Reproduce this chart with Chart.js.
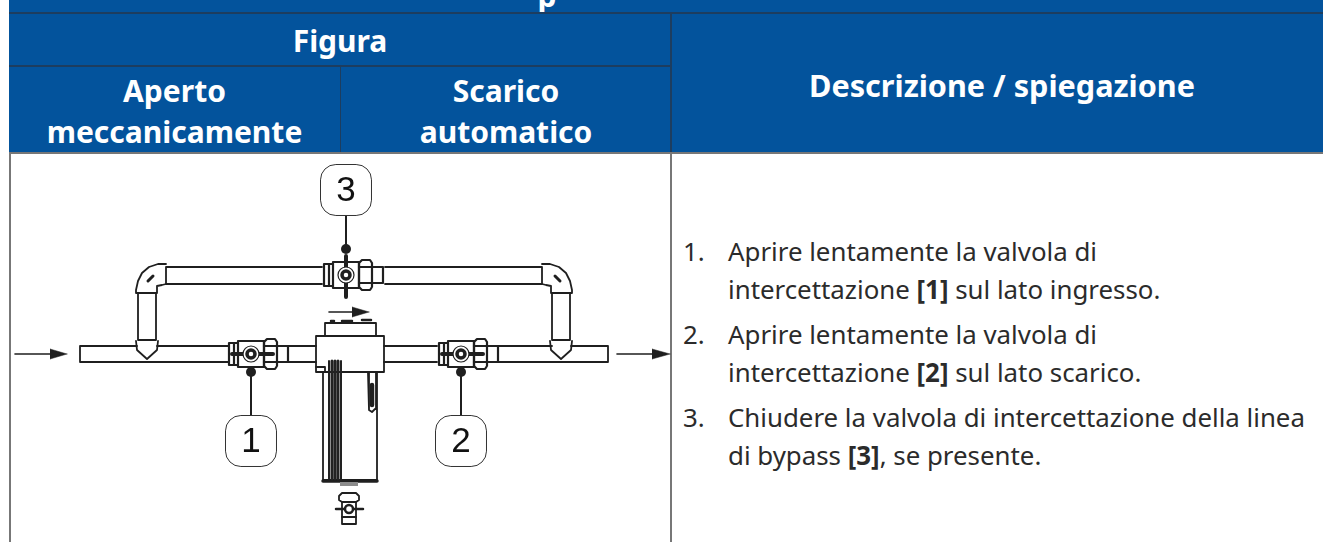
<!DOCTYPE html>
<html>
<head>
<meta charset="utf-8">
<script src="https://cdn.jsdelivr.net/npm/chart.js@4"></script>
<style>
    html, body { margin: 0; padding: 0; background: #fff; }
    #page { position: relative; width: 1323px; height: 542px; overflow: hidden; font-family: "Noto Sans", sans-serif; }
    #page canvas { position: absolute; left: 0; top: 0; }
    .fill { position: absolute; background: #03539c; }
    .rule { position: absolute; background: #1d3d5f; }
    .edge { position: absolute; background: #777; }
    .head { position: absolute; color: #fff; font-weight: 700; text-align: center; white-space: nowrap; font-size: 30px; line-height: 40px; }
    .row { position: absolute; color: #2b2b2b; font-size: 25.85px; line-height: 38px; white-space: nowrap; }
    .row b { font-weight: 700; }
</style>
</head>
<body>
<div id="page">
    <div class="fill" style="left:9px;top:0;width:1314px;height:153px"></div>
    <div class="head" style="left:527px;top:-24px;width:40px">p</div>
    <div class="rule" style="left:9px;top:12px;width:1314px;height:2px"></div>
    <div class="rule" style="left:9px;top:65px;width:662px;height:2px"></div>
    <div class="rule" style="left:340px;top:66px;width:1px;height:87px"></div>
    <div class="rule" style="left:670px;top:13px;width:2px;height:140px"></div>
    <div class="edge" style="left:9px;top:152px;width:1314px;height:2px"></div>
    <div class="edge" style="left:9px;top:153px;width:2px;height:389px"></div>
    <div class="edge" style="left:670px;top:153px;width:2px;height:389px"></div>

    <div class="head" style="left:9px;top:21px;width:662px">Figura</div>
    <div class="head" style="left:9px;top:71px;width:331px">Aperto</div>
    <div class="head" style="left:9px;top:112px;width:331px">meccanicamente</div>
    <div class="head" style="left:341px;top:71px;width:330px">Scarico</div>
    <div class="head" style="left:341px;top:112px;width:330px">automatico</div>
    <div class="head" style="left:671px;top:65px;width:662px;font-size:30.6px">Descrizione / spiegazione</div>

    <div class="row" style="left:683px;top:232px">1.</div>
    <div class="row" style="left:728px;top:232px">Aprire lentamente la valvola di</div>
    <div class="row" style="left:728px;top:270px">intercettazione <b>[1]</b> sul lato ingresso.</div>
    <div class="row" style="left:683px;top:315px">2.</div>
    <div class="row" style="left:728px;top:315px">Aprire lentamente la valvola di</div>
    <div class="row" style="left:728px;top:353px">intercettazione <b>[2]</b> sul lato scarico.</div>
    <div class="row" style="left:683px;top:398px">3.</div>
    <div class="row" style="left:728px;top:398px">Chiudere la valvola di intercettazione della linea</div>
    <div class="row" style="left:728px;top:436px">di bypass <b>[3]</b>, se presente.</div>

    <canvas id="diagram" width="1323" height="542"></canvas>
</div>

<script>
// Callouts
const calloutLabels = ['1', '2', '3'];
const calloutBoxes = [[251, 441], [461, 441], [346, 190]];
const calloutDots = [[251, 372], [461, 372], [346, 249]];
const calloutLeads = [[[251, 372], [251, 416]], [[461, 372], [461, 416]], [[346, 215], [346, 249]]];

// Flow arrows: tail, then the two edges of each head, filled back to the axis
const arrowLines = [[[15, 354], [52, 354]], [[617, 354], [654, 354]], [[329, 312], [354, 312]]];
const arrowEdges = [
    [[50, 349], [67, 354]], [[50, 359], [67, 354]],
    [[652, 349], [670, 354]], [[652, 359], [670, 354]],
    [[352, 307], [369, 312]], [[352, 317], [369, 312]]
];

// Pipes
const topPipeLeft = [[322, 267], [166, 267], [166, 284], [322, 284]];
const topPipeRight = [[385, 267], [542, 267], [542, 284], [385, 284]];
const elbowLeft = [[166, 264], [158, 264], [149, 267], [142, 273], [138, 281], [136, 290], [136, 293], [157, 293], [157, 286], [162, 285], [166, 284]];
const elbowLeftEye = [[148, 281], [153, 276]];
const riserLeft = [[138, 293], [138, 340], [156, 340], [156, 293]];
const capLeft = [[136, 341], [137, 350], [147, 359], [157, 350], [158, 341]];
const mainInA = [[137, 346], [80, 346], [80, 362], [229, 362]];
const mainInB = [[157, 346], [229, 346]];
const mainOutA = [[497, 346], [552, 346]];
const mainOutB = [[571, 346], [608, 346], [608, 362], [497, 362]];
const midIn = [[287, 346], [316, 346]];
const midInB = [[287, 362], [316, 362]];
const midOut = [[384, 346], [437, 346]];
const midOutB = [[384, 362], [437, 362]];

// Filter
const filterHead = [[316, 336], [384, 336], [384, 372], [316, 372], [316, 336]];
const filterTop = [[325, 335], [325, 323], [376, 323], [376, 335]];
const filterBumps = [[[342, 321], [352, 321]], [[362, 320], [371, 320]], [[331, 321], [334, 321]]];
const filterLip = [[316, 367], [325, 367], [325, 372]];
const bowl = [[323, 372], [323, 480], [377, 480], [377, 372]];
const bowlBase = [[323, 481], [377, 481]];
const bowlStrips = [[329, 361], [332, 361], [335, 361], [338, 361], [341, 361]];
const bowlStripEnd = 479;
const sightGlass = [[368, 373], [369, 410], [372, 412], [375, 409], [376, 373]];
const sightBar = [[372, 385], [372, 405]];

// Drain valve under the bowl
const drainNeck = [[340, 484], [358, 484]];
const drainNut = [[342, 493], [356, 493], [359, 496], [359, 500], [356, 502], [342, 502], [339, 500], [339, 496], [342, 493]];
const drainBody = [[342, 502], [342, 524], [356, 524], [356, 502]];
const drainBottom = [[342, 517], [356, 517]];
const drainHandle = [[336, 509], [363, 509]];
const drainKnob = [[349, 509]];

// Valve outlines around their own centre
const valveLeftBody = [[-13, -11], [-22, -11], [-22, 11], [-13, 11]];
const valveMiddle = [[-13, -13], [13, -13], [13, 13], [-13, 13], [-13, -13]];
const valveInner = [[-17, -11], [-17, 11]];
const valveNut = [[13, -12], [16, -15], [24, -15], [26, -12], [26, 12], [24, 15], [16, 15], [13, 12], [13, -12]];
const valveNutBand = [[13, -8], [26, -8]];
const valveNutBandB = [[13, 8], [26, 8]];
const valveStub = [[26, -8], [37, -8], [37, 8], [26, 8]];
const valveHandleFlat = [[-19, 0], [22, 0]];
const valveHandleUp = [[0, -19], [0, 22]];
const valveCentres = [[251, 354], [461, 354], [346, 275]];

function shift(points, dx, dy) {
    return points.map(p => ({ x: p[0] + dx, y: p[1] + dy }));
}
function mirror(points) {
    return points.map(p => [708 - p[0], p[1]]);
}

const INK = '#1f1f1f';
const datasets = [];

function line(points, width, extra) {
    datasets.push(Object.assign({
        data: shift(points, 0, 0),
        showLine: true,
        borderColor: INK,
        borderWidth: width || 1.8,
        borderCapStyle: 'round',
        borderJoinStyle: 'round',
        pointRadius: 0,
        clip: false
    }, extra));
}
function marker(points, style, radius, extra) {
    datasets.push(Object.assign({
        data: shift(points, 0, 0),
        showLine: false,
        pointStyle: style,
        pointRadius: radius,
        pointBackgroundColor: INK,
        pointBorderColor: INK,
        pointBorderWidth: 0,
        clip: false
    }, extra));
}

[topPipeLeft, topPipeRight, elbowLeft, mirror(elbowLeft), riserLeft, mirror(riserLeft), capLeft, mirror(capLeft),
    mainInA, mainInB, mainOutA, mainOutB, midIn, midInB, midOut, midOutB,
    filterHead, filterTop, filterLip, bowl, sightGlass, drainNut, drainBody, drainBottom].forEach(p => line(p));

line(elbowLeftEye, 3);
line(mirror(elbowLeftEye), 3);
filterBumps.forEach(p => line(p, 2.5));
line(bowlBase, 3.5);
bowlStrips.forEach((top, i) => line([top, [top[0], bowlStripEnd]], i === 0 || i === 4 ? 2 : 3, { borderColor: '#222', borderCapStyle: 'butt' }));
line(sightBar, 4.5);
line(drainNeck, 4, { borderColor: '#8c8c8c', borderCapStyle: 'butt' });
line(drainHandle, 2.5);
marker(drainKnob, 'circle', 4, { pointBackgroundColor: '#fff', pointBorderWidth: 2.5 });

valveCentres.forEach((c, i) => {
    const [cx, cy] = c;
    [valveLeftBody, valveInner, valveMiddle, valveNut, valveNutBand, valveNutBandB, valveStub].forEach(part => {
        line(part.map(p => [p[0] + cx, p[1] + cy]), 2.2);
    });
    line((i === 2 ? valveHandleUp : valveHandleFlat).map(p => [p[0] + cx, p[1] + cy]), 4);
});
valveCentres.forEach(c => marker([c], 'circle', 8, { pointBackgroundColor: '#fff', pointBorderWidth: 1.2 }));
valveCentres.forEach(c => marker([c], 'circle', 4, { pointBackgroundColor: '#fff', pointBorderWidth: 3.5 }));

arrowLines.forEach(p => line(p, 1.6));
arrowEdges.forEach(p => line(p, 0.5, { fill: { target: { value: p[1][1] } }, backgroundColor: INK }));

calloutLeads.forEach(p => line(p, 2));
marker(calloutDots, 'circle', 5);
marker(calloutBoxes, 'rectRounded', 29.7, { pointBackgroundColor: '#fff', pointBorderColor: '#333', pointBorderWidth: 1 });

// Draw order: first pushed goes at the back
datasets.forEach((d, i) => { d.order = datasets.length - i; });

const calloutText = {
    id: 'calloutText',
    afterDatasetsDraw(chart) {
        const { ctx, scales } = chart;
        ctx.save();
        ctx.fillStyle = '#111';
        ctx.font = '35px "Liberation Sans"';
        ctx.textAlign = 'center';
        ctx.textBaseline = 'middle';
        calloutLabels.forEach((label, i) => {
            ctx.fillText(label, scales.x.getPixelForValue(calloutBoxes[i][0]), scales.y.getPixelForValue(calloutBoxes[i][1]) + 1);
        });
        ctx.restore();
    }
};

new Chart(document.getElementById('diagram'), {
    type: 'scatter',
    data: { datasets: datasets },
    plugins: [calloutText],
    options: {
        responsive: false,
        animation: false,
        layout: { padding: 0, autoPadding: false },
        scales: {
            x: { type: 'linear', min: 0, max: 1323, display: false },
            y: { type: 'linear', min: 0, max: 542, reverse: true, display: false }
        },
        plugins: {
            legend: { display: false },
            title: { display: false },
            tooltip: { enabled: false }
        }
    }
});
</script>
</body>
</html>
